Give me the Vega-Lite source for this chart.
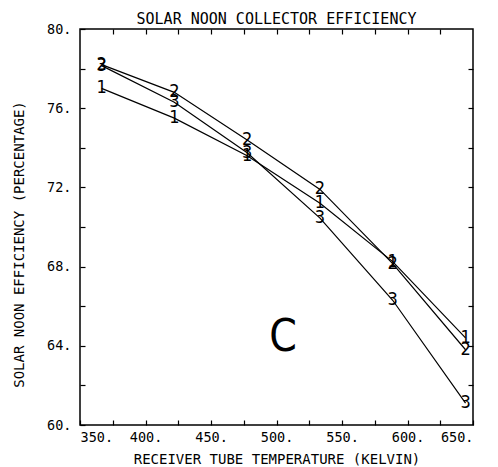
{
  "$schema": "https://vega.github.io/schema/vega-lite/v6.json",
  "autosize": "none",
  "padding": {"left": 80, "top": 29, "right": 25, "bottom": 42},
  "width": 393,
  "height": 396,
  "background": "white",
  "config": {
    "view": {"stroke": "black", "strokeWidth": 1.5},
    "font": "DejaVu Sans Mono",
    "axis": {"labelFont": "DejaVu Sans Mono", "titleFont": "DejaVu Sans Mono", "labelColor": "black", "titleColor": "black", "titleFontWeight": "normal", "labelFontSize": 13.5, "titleFontSize": 14, "domain": false, "grid": false, "tickColor": "black", "tickWidth": 1.2}
  },
  "title": {"text": "SOLAR NOON COLLECTOR EFFICIENCY", "font": "DejaVu Sans Mono", "fontSize": 15, "fontWeight": "normal", "color": "black", "offset": 3, "dy": 8},
  "datasets": {
    "pts": [
      {"t": 366.5, "eff": 77.0, "s": "1"},
      {"t": 422.0, "eff": 75.5, "s": "1"},
      {"t": 477.6, "eff": 73.6, "s": "1"},
      {"t": 533.2, "eff": 71.2, "s": "1"},
      {"t": 588.7, "eff": 68.25, "s": "1"},
      {"t": 644.3, "eff": 64.4, "s": "1"},
      {"t": 366.5, "eff": 78.2, "s": "2"},
      {"t": 422.0, "eff": 76.8, "s": "2"},
      {"t": 477.6, "eff": 74.4, "s": "2"},
      {"t": 533.2, "eff": 71.9, "s": "2"},
      {"t": 588.7, "eff": 68.15, "s": "2"},
      {"t": 644.3, "eff": 63.8, "s": "2"},
      {"t": 366.5, "eff": 78.15, "s": "3"},
      {"t": 422.0, "eff": 76.3, "s": "3"},
      {"t": 477.6, "eff": 73.75, "s": "3"},
      {"t": 533.2, "eff": 70.45, "s": "3"},
      {"t": 588.7, "eff": 66.3, "s": "3"},
      {"t": 644.3, "eff": 61.1, "s": "3"}
    ],
    "note": [{"t": 505, "eff": 64.5, "s": "C"}]
  },
  "resolve": {"axis": {"x": "independent", "y": "independent"}},
  "layer": [
    {
      "data": {"name": "pts"},
      "mark": {"type": "line", "color": "black", "strokeWidth": 1.2},
      "encoding": {
        "x": {"field": "t", "type": "quantitative", "scale": {"domain": [350, 650], "nice": false, "zero": false},
          "axis": {"orient": "bottom", "values": [350,375,400,425,450,475,500,525,550,575,600,625,650], "labelExpr": "datum.value % 50 == 0 ? datum.value + '.' : ''", "tickSize": -5, "labelPadding": 10, "title": "RECEIVER TUBE TEMPERATURE (KELVIN)", "titlePadding": 9}},
        "y": {"field": "eff", "type": "quantitative", "scale": {"domain": [60, 80], "nice": false, "zero": false},
          "axis": {"orient": "left", "values": [60,62,64,66,68,70,72,74,76,78,80], "labelExpr": "datum.value % 4 == 0 ? datum.value + '.' : ''", "tickSize": -5, "labelPadding": 14, "title": "SOLAR NOON EFFICIENCY (PERCENTAGE)", "titleX": -54, "titleY": 215}},
        "detail": {"field": "s"}
      }
    },
    {
      "data": {"name": "pts"},
      "mark": {"type": "text", "color": "black", "font": "DejaVu Sans Condensed", "fontSize": 18, "baseline": "middle", "align": "center"},
      "encoding": {
        "x": {"field": "t", "type": "quantitative", "axis": {"orient": "top", "values": [375,400,425,450,475,500,525,550,575,600,625], "labels": false, "tickSize": -5, "title": null}},
        "y": {"field": "eff", "type": "quantitative", "axis": {"orient": "right", "values": [62,64,66,68,70,72,74,76,78], "labels": false, "tickSize": -5, "title": null}},
        "text": {"field": "s"}
      }
    },
    {
      "data": {"name": "note"},
      "mark": {"type": "text", "color": "black", "font": "DejaVu Sans Condensed", "fontSize": 44, "baseline": "middle", "align": "center", "dy": 2},
      "encoding": {
        "x": {"field": "t", "type": "quantitative", "axis": null},
        "y": {"field": "eff", "type": "quantitative", "axis": null},
        "text": {"field": "s"}
      }
    }
  ]
}
